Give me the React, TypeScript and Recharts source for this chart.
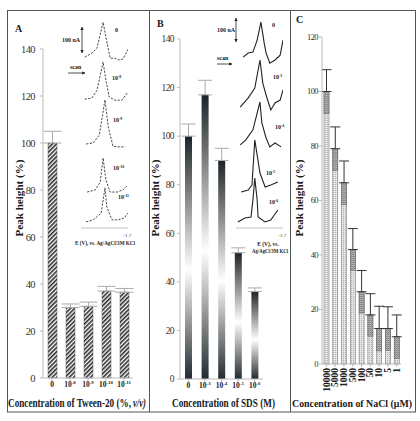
import React from 'react';
import { BarChart, Bar, XAxis, YAxis, ErrorBar, LineChart, Line } from 'recharts';

const SERIF = "'Liberation Serif', 'Times New Roman', serif";

// A: Tween-20
const tweenLabels = ['0', '10^-8', '10^-9', '10^-10', '10^-11'];
const tweenPeak = [100, 30, 30.5, 37, 36.5];
const tweenErr = [5, 1.5, 1.8, 2, 1.6];

// B: SDS
const sdsLabels = ['0', '10^-3', '10^-4', '10^-5', '10^-6'];
const sdsPeak = [100, 117, 90, 52, 36];
const sdsErr = [5, 6, 5, 2, 1.5];

// C: NaCl
const naclLabels = ['10000', '5000', '1000', '500', '100', '50', '10', '5', '1'];
const naclPeak = [100, 79, 66.5, 42, 26.5, 18, 13, 13, 10];
const naclErr = [8, 8, 8, 7.7, 7.8, 7.8, 8.2, 8, 8];

const ticks140 = [0, 20, 40, 60, 80, 100, 120, 140];
const ticks120 = [0, 20, 40, 60, 80, 100, 120];
const scanTicks = [-0.7, -1.2, -1.7];

// inset voltammograms: E (V) and current (nA) over each trace's baseline
const tweenOffset = [651, 491, 320, 137, 23];
const tweenE0 = [-0.78, -0.93, -1.04, -1.17, -1.23, -1.32, -1.42, -1.51, -1.59, -1.7];
const tweenI0 = [0, 15, 34, 133, 76, -4, -4, -11, -8, 30];
const tweenE1 = [-0.78, -0.93, -1.04, -1.17, -1.23, -1.3, -1.42, -1.57, -1.68];
const tweenI1 = [0, 4, 34, 141, 72, 8, -4, -4, 23];
const tweenE2 = [-0.81, -0.96, -1.09, -1.21, -1.28, -1.38, -1.49, -1.64];
const tweenI2 = [0, 4, 34, 168, 65, -8, -11, -11];
const tweenE3 = [-0.83, -1.0, -1.11, -1.17, -1.23, -1.32, -1.47, -1.59, -1.7];
const tweenI3 = [0, 8, 38, 130, 46, 0, 0, 8, 27];
const tweenE4 = [-0.81, -0.96, -1.13, -1.21, -1.25, -1.36, -1.49, -1.62, -1.7];
const tweenI4 = [0, 8, 34, 130, 57, 8, 8, 15, 34];

const sdsOffset = [712, 504, 346, 150, 25];
const sdsE0 = [-0.85, -0.96, -1.06, -1.15, -1.23, -1.3, -1.34, -1.42, -1.53, -1.64, -1.7];
const sdsI0 = [0, 17, 21, 71, 146, 58, 17, -25, -12, 8, 71];
const sdsE1 = [-0.79, -0.96, -1.1, -1.21, -1.27, -1.34, -1.44, -1.53, -1.64, -1.7];
const sdsI1 = [0, 38, 79, 196, 100, 50, -12, 17, 29, 71];
const sdsE2 = [-0.79, -0.91, -1.06, -1.21, -1.25, -1.34, -1.42, -1.53, -1.66];
const sdsI2 = [0, 21, 63, 179, 92, 29, -8, 8, -8];
const sdsE3 = [-0.81, -0.96, -1.04, -1.1, -1.21, -1.32, -1.44, -1.59];
const sdsI3 = [0, 8, 29, 217, 79, 21, 29, 42];
const sdsE4 = [-0.74, -0.89, -1.02, -1.06, -1.1, -1.15, -1.17, -1.32, -1.44, -1.59];
const sdsI4 = [0, 17, 21, 92, 183, 92, 21, 0, 8, 50];

const tweenData = tweenLabels.map((name, k) => ({ name, peak: tweenPeak[k], err: [0, tweenErr[k]] }));
const sdsData = sdsLabels.map((name, k) => ({ name, peak: sdsPeak[k], err: [0, sdsErr[k]] }));
const naclData = naclLabels.map((name, k) => ({ name, peak: naclPeak[k], lo: naclErr[k], err: [0, naclErr[k]] }));

const toScan = (e: number[], cur: number[], off: number) => e.map((v, j) => ({ e: v, i: cur[j] + off }));
const tweenScans = [
  toScan(tweenE0, tweenI0, tweenOffset[0]),
  toScan(tweenE1, tweenI1, tweenOffset[1]),
  toScan(tweenE2, tweenI2, tweenOffset[2]),
  toScan(tweenE3, tweenI3, tweenOffset[3]),
  toScan(tweenE4, tweenI4, tweenOffset[4]),
];
const sdsScans = [
  toScan(sdsE0, sdsI0, sdsOffset[0]),
  toScan(sdsE1, sdsI1, sdsOffset[1]),
  toScan(sdsE2, sdsI2, sdsOffset[2]),
  toScan(sdsE3, sdsI3, sdsOffset[3]),
  toScan(sdsE4, sdsI4, sdsOffset[4]),
];

function PowText({ x, y, label, size, anchor = 'middle' }: any) {
  const [base, exp] = label.split('^');
  return (
    <text x={x} y={y} textAnchor={anchor} fontFamily={SERIF} fontSize={size} fontWeight="bold" fill="#222">
      {base}
      {exp && <tspan dy={-size * 0.4} fontSize={size * 0.65}>{exp}</tspan>}
    </text>
  );
}

// squeezed bold serif title: natural width w at size, drawn into width target
function Squeezed({ x, y, size, w, target, italic, children }: any) {
  const sx = target / w;
  return (
    <text transform={`translate(${x},${y}) scale(${sx},1)`} fontSize={size} fontFamily={SERIF} fontWeight="bold"
      fontStyle={italic ? 'italic' : undefined} fill="#1a1a1a" textLength={w} lengthAdjust="spacingAndGlyphs">
      {children}
    </text>
  );
}

const CatTick = ({ x, y, payload }: any) => <PowText x={x} y={y + 3.5} label={payload.value} size={7.5} />;

const makeYTick = (size: number) => ({ x, y, payload }: any) => (
  <text x={x} y={y} dy={size * 0.35} textAnchor="end" fontFamily={SERIF} fontSize={size} fill="#333" letterSpacing={-0.6}>
    {payload.value}
  </text>
);
const yTickA = makeYTick(10.5);
const yTickB = makeYTick(9.5);
const yTickC = makeYTick(8.5);

const NaclTick = ({ x, y, payload }: any) => (
  <text transform={`translate(${x + 3.2},${y}) rotate(-90)`} textAnchor="end" fontFamily={SERIF} fontSize={9.5} fontWeight="bold" fill="#222">
    {payload.value}
  </text>
);

const ScanTick = ({ x, y, payload }: any) => (
  <text x={x} y={y + 9} textAnchor="middle" fontFamily={SERIF} fontSize={5} fill="#333">
    {payload.value.toFixed(1)}
  </text>
);

const NaclShape = ({ x, y, width, height, payload }: any) => {
  const dark = (height * payload.lo) / payload.peak;
  return (
    <g>
      <rect x={x} y={y} width={width} height={height} fill="url(#naclLight)" stroke="#7a7a7a" strokeWidth={0.6} />
      <rect x={x} y={y} width={width} height={dark} fill="url(#naclDark)" stroke="#666" strokeWidth={0.6} />
    </g>
  );
};

const axisGrey = { stroke: '#bbb', strokeWidth: 1 };

function Inset({ left, scans, max, dashed }: any) {
  return (
    <div style={{ position: 'absolute', left, top: 14 }}>
      <LineChart width={70} height={230} margin={{ top: 4, right: 12, bottom: 0, left: 11 }}>
        <XAxis dataKey="e" type="number" domain={[-1.7, -0.7]} reversed allowDataOverflow ticks={scanTicks}
          height={16} tick={ScanTick} tickSize={0} tickMargin={0} tickLine={false} axisLine={{ stroke: '#999', strokeWidth: 0.6 }} />
        <YAxis hide domain={[0, max]} />
        {scans.map((d: any, k: number) => (
          <Line key={k} data={d} dataKey="i" type="linear" stroke={dashed ? '#333' : '#222'} strokeWidth={dashed ? 0.9 : 1.1}
            strokeDasharray={dashed ? '2.2 1.4' : undefined} dot={false} isAnimationActive={false} />
        ))}
      </LineChart>
    </div>
  );
}

export default function App() {
  const t = { fontFamily: SERIF, fontWeight: 'bold' as const, fill: '#1a1a1a' };
  return (
    <div style={{ position: 'absolute', left: 0, top: 0, width: 420, height: 421, background: '#fff', overflow: 'hidden' }}>
      <svg width={0} height={0} style={{ position: 'absolute' }}>
        <defs>
          <pattern id="tweenHatch" patternUnits="userSpaceOnUse" width={3} height={3} patternTransform="rotate(45)">
            <rect width={3} height={3} fill="#fff" />
            <rect width={1.6} height={3} fill="#2b2b2b" />
          </pattern>
          <linearGradient id="sdsGrad" x1="0" y1="0" x2="0" y2="1">
            <stop offset="0%" stopColor="#1d2327" />
            <stop offset="55%" stopColor="#ffffff" />
            <stop offset="100%" stopColor="#232a2e" />
          </linearGradient>
          <pattern id="naclLight" patternUnits="userSpaceOnUse" width={2} height={2}>
            <rect width={2} height={2} fill="#e4e4e4" />
            <rect width={1} height={1} fill="#b0b0b0" />
          </pattern>
          <pattern id="naclDark" patternUnits="userSpaceOnUse" width={2} height={2}>
            <rect width={2} height={2} fill="#bdbdbd" />
            <rect width={2} height={1} fill="#858585" />
            <rect width={1} height={2} fill="#9a9a9a" />
          </pattern>
        </defs>
      </svg>

      <div style={{ position: 'absolute', left: 0, top: 0 }}>
        <BarChart width={150} height={421} data={tweenData} margin={{ top: 49, right: 17, bottom: 0, left: 0 }}>
          <XAxis dataKey="name" height={43} interval={0} tick={CatTick} tickSize={3} axisLine={axisGrey} tickLine={axisGrey} />
          <YAxis width={43} domain={[0, 140]} ticks={ticks140} tick={yTickA} tickSize={3} tickMargin={5} axisLine={axisGrey} tickLine={axisGrey} />
          <Bar dataKey="peak" fill="url(#tweenHatch)" stroke="#444" strokeWidth={0.4} barSize={9} isAnimationActive={false}>
            <ErrorBar dataKey="err" direction="y" width={9} stroke="#aaa" strokeWidth={1} />
          </Bar>
        </BarChart>
      </div>

      <div style={{ position: 'absolute', left: 149, top: 0 }}>
        <BarChart width={142} height={421} data={sdsData} margin={{ top: 39, right: 28, bottom: 0, left: 0 }}>
          <XAxis dataKey="name" height={42} interval={0} tick={CatTick} tickSize={3} axisLine={axisGrey} tickLine={axisGrey} />
          <YAxis width={31} domain={[0, 140]} ticks={ticks140} tick={yTickB} tickSize={3} tickMargin={3} axisLine={axisGrey} tickLine={axisGrey} />
          <Bar dataKey="peak" fill="url(#sdsGrad)" barSize={7} isAnimationActive={false}>
            <ErrorBar dataKey="err" direction="y" width={7} stroke="#aaa" strokeWidth={1} />
          </Bar>
        </BarChart>
      </div>

      <div style={{ position: 'absolute', left: 291, top: 0 }}>
        <BarChart width={125} height={421} data={naclData} margin={{ top: 37, right: 15, bottom: 0, left: 0 }}>
          <XAxis dataKey="name" height={57} interval={0} tick={NaclTick} tickSize={3} tickMargin={1} axisLine={axisGrey} tickLine={axisGrey} />
          <YAxis width={31} domain={[0, 120]} ticks={ticks120} tick={yTickC} tickSize={3} tickMargin={1} axisLine={axisGrey} tickLine={axisGrey} />
          <Bar dataKey="peak" shape={NaclShape} barSize={5} isAnimationActive={false}>
            <ErrorBar dataKey="err" direction="y" width={5} stroke="#333" strokeWidth={1} />
          </Bar>
        </BarChart>
      </div>

      <Inset left={70} scans={tweenScans} max={800} dashed />
      <Inset left={225} scans={sdsScans} max={875} dashed={false} />

      <svg width={420} height={421} style={{ position: 'absolute', left: 0, top: 0, pointerEvents: 'none' }}>
        <defs>
          <marker id="tip" viewBox="0 0 6 6" refX={5.5} refY={3} markerWidth={4} markerHeight={4} orient="auto-start-reverse">
            <path d="M0,0 L6,3 L0,6 z" fill="#222" />
          </marker>
        </defs>
        <rect x={7.5} y={10.5} width={408} height={401.5} fill="none" stroke="#555" strokeWidth={1} />
        <line x1={149.5} y1={10.5} x2={149.5} y2={412} stroke="#555" strokeWidth={1} />
        <line x1={290.5} y1={10.5} x2={290.5} y2={412} stroke="#555" strokeWidth={1} />

        <text x={15} y={32} fontSize={10} {...t}>A</text>
        <text x={157} y={27} fontSize={10} {...t}>B</text>
        <text x={296} y={23} fontSize={10} {...t}>C</text>

        <text transform="translate(23,198) rotate(-90)" textAnchor="middle" fontSize={11} textLength={77} lengthAdjust="spacingAndGlyphs" {...t}>Peak height (%)</text>
        <text transform="translate(159,198) rotate(-90)" textAnchor="middle" fontSize={11} textLength={77} lengthAdjust="spacingAndGlyphs" {...t}>Peak height (%)</text>
        <text transform="translate(303,198) rotate(-90)" textAnchor="middle" fontSize={11} textLength={77} lengthAdjust="spacingAndGlyphs" {...t}>Peak height (%)</text>

        <Squeezed x={8} y={407} size={11.5} w={155} target={123}>Concentration of Tween-20 (%,</Squeezed>
        <Squeezed x={133} y={407} size={11.5} w={18.5} target={13} italic>v/v)</Squeezed>
        <Squeezed x={172} y={407} size={11.5} w={128.7} target={103}>Concentration of SDS (M)</Squeezed>
        <Squeezed x={292} y={407} size={11} w={133.5} target={120}>Concentration of NaCl (μM)</Squeezed>

        {/* inset A annotations */}
        <text x={62} y={42} fontSize={6} {...t}>100 nA</text>
        <line x1={82} y1={27} x2={82} y2={53} stroke="#222" strokeWidth={0.8} markerStart="url(#tip)" markerEnd="url(#tip)" />
        <text x={70} y={69} fontSize={6} {...t}>scan</text>
        <line x1={68} y1={73} x2={85} y2={73} stroke="#222" strokeWidth={0.8} markerEnd="url(#tip)" />
        <PowText x={115} y={32} label={tweenLabels[0]} size={6} anchor="start" />
        <PowText x={112} y={80} label={tweenLabels[1]} size={6} anchor="start" />
        <PowText x={113} y={122} label={tweenLabels[2]} size={6} anchor="start" />
        <PowText x={113} y={170} label={tweenLabels[3]} size={6} anchor="start" />
        <PowText x={118} y={199} label={tweenLabels[4]} size={6} anchor="start" />
        <text x={105} y={245} textAnchor="middle" fontSize={5.5} textLength={60} lengthAdjust="spacingAndGlyphs" {...t}>E (V), vs. Ag/AgCl/3M KCl</text>

        {/* inset B annotations */}
        <text x={217} y={32} fontSize={6} {...t}>100 nA</text>
        <line x1={236} y1={18} x2={236} y2={42} stroke="#222" strokeWidth={0.8} markerStart="url(#tip)" markerEnd="url(#tip)" />
        <text x={217} y={60} fontSize={6} {...t}>scan</text>
        <line x1={217} y1={64} x2={232} y2={64} stroke="#222" strokeWidth={0.8} markerEnd="url(#tip)" />
        <PowText x={272} y={27} label={sdsLabels[0]} size={6} anchor="start" />
        <PowText x={273} y={79} label={sdsLabels[1]} size={6} anchor="start" />
        <PowText x={275} y={129} label={sdsLabels[2]} size={6} anchor="start" />
        <PowText x={266} y={175} label={sdsLabels[3]} size={6} anchor="start" />
        <PowText x={269} y={204} label={sdsLabels[4]} size={6} anchor="start" />
        <text x={268} y={246} textAnchor="middle" fontSize={5.5} {...t}>E (V), vs.</text>
        <text x={270} y={253} textAnchor="middle" fontSize={5.5} textLength={36} lengthAdjust="spacingAndGlyphs" {...t}>Ag/AgCl/3M KCl</text>
      </svg>
    </div>
  );
}
